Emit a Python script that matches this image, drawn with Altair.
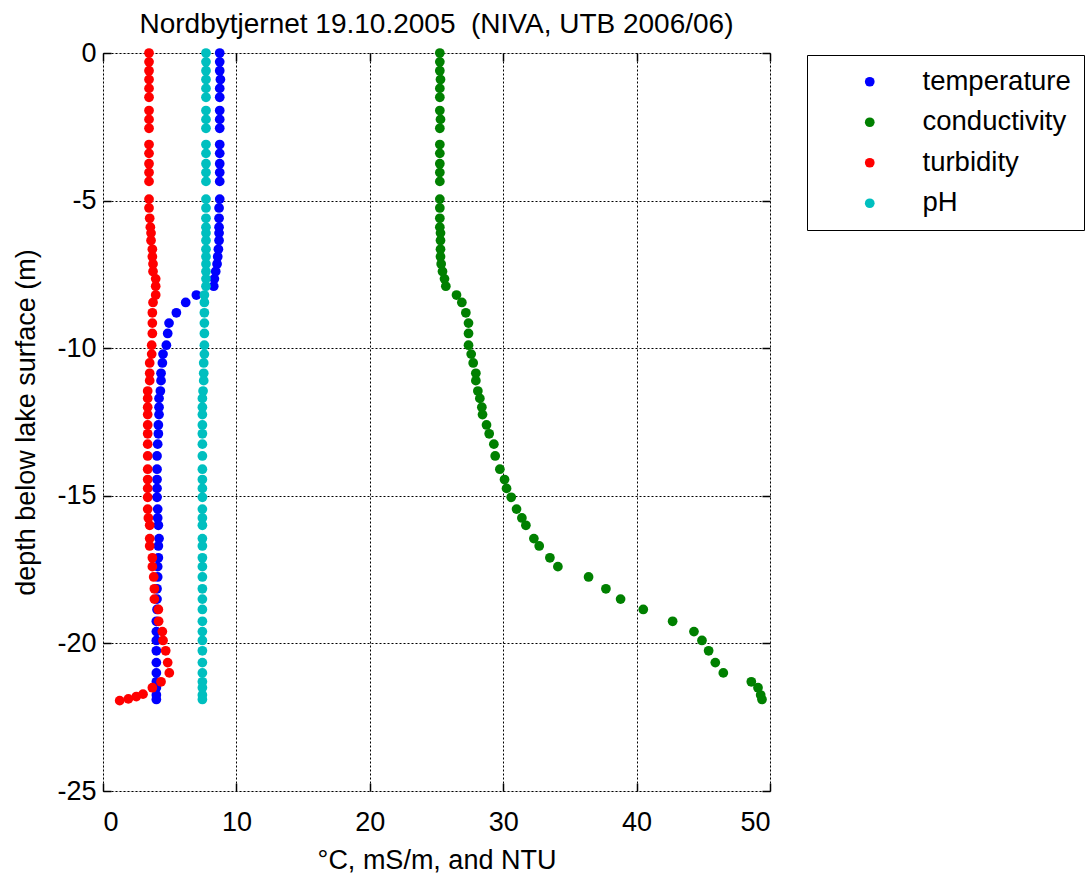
import altair as alt
import pandas as pd

# ---- data ----
depth = [0.0, 0.3, 0.6, 0.9, 1.2, 1.5, 1.95, 2.25, 2.55, 3.1,
         3.4, 3.75, 4.05, 4.35, 4.95, 5.25, 5.6, 5.9, 6.1, 6.35,
         6.65, 6.9, 7.15, 7.4, 7.65, 7.9, 8.2, 8.45, 8.8, 9.15,
         9.5, 9.9, 10.2, 10.5, 10.85, 11.1, 11.45, 11.7, 12.0, 12.25,
         12.6, 12.9, 13.25, 13.65, 14.1, 14.45, 14.75, 15.05, 15.45, 15.75,
         16.0, 16.45, 16.7, 17.1, 17.4, 17.75, 18.15, 18.5, 18.85, 19.25,
         19.6, 19.9, 20.25, 20.65, 21.0, 21.3, 21.5, 21.75, 21.9]

temperature = [8.75, 8.75, 8.75, 8.8, 8.75, 8.75, 8.75, 8.75, 8.75, 8.75,
               8.75, 8.75, 8.75, 8.75, 8.75, 8.7, 8.7, 8.7, 8.7, 8.7,
               8.65, 8.6, 8.55, 8.45, 8.35, 8.3, 7.0, 6.2, 5.5, 4.95,
               4.85, 4.75, 4.5, 4.45, 4.35, 4.35, 4.3, 4.2, 4.2, 4.2,
               4.15, 4.15, 4.1, 4.05, 4.05, 4.05, 4.05, 4.05, 4.1, 4.1,
               4.15, 4.2, 4.15, 4.15, 4.1, 4.1, 4.05, 4.05, 4.05, 4.0,
               4.0, 4.0, 4.0, 4.0, 4.0, 4.0, 4.0, 4.0, 4.0]

conductivity = [25.25, 25.25, 25.25, 25.3, 25.25, 25.25, 25.25, 25.3, 25.25, 25.25,
                25.25, 25.25, 25.25, 25.25, 25.25, 25.25, 25.25, 25.25, 25.3, 25.3,
                25.3, 25.3, 25.35, 25.45, 25.6, 25.7, 26.5, 26.9, 27.2, 27.4,
                27.4, 27.4, 27.6, 27.75, 27.95, 27.95, 28.1, 28.25, 28.4, 28.45,
                28.75, 28.95, 29.3, 29.4, 29.75, 30.1, 30.25, 30.6, 31.0, 31.4,
                31.7, 32.3, 32.7, 33.5, 34.1, 36.4, 37.7, 38.8, 40.5, 42.7,
                44.3, 44.9, 45.4, 45.9, 46.5, 48.6, 49.1, 49.3, 49.4]

ph = [7.72, 7.72, 7.72, 7.72, 7.72, 7.72, 7.72, 7.72, 7.72, 7.72,
      7.72, 7.72, 7.72, 7.72, 7.72, 7.72, 7.72, 7.72, 7.72, 7.72,
      7.72, 7.72, 7.72, 7.72, 7.72, 7.72, 7.6, 7.6, 7.6, 7.6,
      7.6, 7.6, 7.6, 7.55, 7.55, 7.55, 7.5, 7.45, 7.45, 7.45,
      7.45, 7.45, 7.45, 7.45, 7.45, 7.45, 7.45, 7.45, 7.45, 7.45,
      7.45, 7.45, 7.45, 7.45, 7.45, 7.45, 7.45, 7.45, 7.45, 7.45,
      7.45, 7.45, 7.45, 7.45, 7.45, 7.45, 7.45, 7.45, 7.45]

turbidity_depth = [0.0, 0.3, 0.6, 0.9, 1.2, 1.5, 1.95, 2.25, 2.55, 3.1,
                   3.4, 3.75, 4.05, 4.35, 4.95, 5.25, 5.6, 5.9, 6.1, 6.35,
                   6.65, 6.9, 7.15, 7.4, 7.65, 7.9, 8.2, 8.45, 8.8, 9.15,
                   9.5, 9.9, 10.2, 10.5, 10.85, 11.1, 11.45, 11.7, 12.0, 12.25,
                   12.6, 12.9, 13.25, 13.65, 14.1, 14.45, 14.75, 15.05, 15.45, 15.75,
                   16.0, 16.45, 16.7, 17.1, 17.4, 17.75, 18.15, 18.5, 18.85, 19.25,
                   19.6, 19.9, 20.25, 20.65, 21.0, 21.3, 21.5, 21.72, 21.8, 21.88,
                   21.94]

turbidity = [3.45, 3.45, 3.45, 3.45, 3.45, 3.45, 3.45, 3.45, 3.45, 3.45,
             3.45, 3.45, 3.45, 3.45, 3.45, 3.45, 3.5, 3.55, 3.6, 3.6,
             3.7, 3.7, 3.75, 3.75, 3.95, 3.95, 3.95, 3.75, 3.7, 3.7,
             3.7, 3.65, 3.65, 3.5, 3.5, 3.5, 3.35, 3.35, 3.35, 3.35,
             3.35, 3.35, 3.35, 3.35, 3.35, 3.35, 3.35, 3.35, 3.35, 3.4,
             3.5, 3.5, 3.5, 3.7, 3.7, 3.8, 3.85, 3.85, 4.15, 4.17,
             4.45, 4.5, 4.7, 4.85, 4.97, 4.35, 3.7, 3.0, 2.5, 1.9,
             1.25]

series_names = ["temperature", "conductivity", "turbidity", "pH"]
series_colors = ["#0000FF", "#008000", "#FF0000", "#00BFBF"]
x_ticks = [0, 10, 20, 30, 40, 50]
y_ticks = [0, -5, -10, -15, -20, -25]

# ---- long table built from the arrays ----
rows = []
for name, vals, deps in [("temperature", temperature, depth),
                         ("conductivity", conductivity, depth),
                         ("turbidity", turbidity, turbidity_depth),
                         ("pH", ph, depth)]:
    for v, d in zip(vals, deps):
        rows.append({"series": name, "value": v, "z": -d})
df = pd.DataFrame(rows)

FONT = "Liberation Sans"
FS = 27
xs = alt.Scale(domain=[0, 50], nice=False, zero=False)
ys = alt.Scale(domain=[-25, 0], nice=False, zero=False)

common = dict(labelFont=FONT, titleFont=FONT, labelColor="black", titleColor="black",
              labelFontSize=FS, titleFontSize=FS, titleFontWeight="normal", domain=False)

points = alt.Chart(df).mark_circle(size=95, opacity=1).encode(
    x=alt.X("value:Q", scale=xs,
            axis=alt.Axis(orient="bottom", values=x_ticks, title="°C, mS/m, and NTU",
                          ticks=False, labelPadding=18, titlePadding=12,
                          grid=True, gridColor="black", gridDash=[2, 2], gridWidth=1,
                          gridOpacity=1, **common)),
    y=alt.Y("z:Q", scale=ys,
            axis=alt.Axis(orient="left", values=y_ticks, title="depth below lake surface (m)",
                          ticks=False, labelPadding=7, titlePadding=16,
                          labelExpr="datum.value == 0 ? '0' : '-' + abs(datum.value)",
                          grid=True, gridColor="black", gridDash=[2, 2], gridWidth=1,
                          gridOpacity=1, **common)),
    color=alt.Color("series:N", scale=alt.Scale(domain=series_names, range=series_colors),
                    legend=alt.Legend(title=None, orient="none", legendX=704, legendY=2,
                                      direction="vertical", symbolType="circle",
                                      symbolSize=95, symbolOpacity=1, symbolStrokeWidth=0,
                                      labelFont=FONT, labelFontSize=27.5, labelColor="black",
                                      labelOffset=39, symbolOffset=36, rowPadding=11.5,
                                      padding=13, strokeColor="black", fillColor="white",
                                      labelLimit=400)),
)

tick_style = dict(labels=False, title=None, grid=False, domain=False,
                  tickSize=8, tickWidth=1.5, tickColor="black", offset=-8)

ticks_bl = alt.Chart(df).mark_circle(opacity=0).encode(
    x=alt.X("value:Q", scale=xs, axis=alt.Axis(orient="bottom", values=x_ticks, **tick_style)),
    y=alt.Y("z:Q", scale=ys, axis=alt.Axis(orient="left", values=y_ticks, **tick_style)),
)
ticks_tr = alt.Chart(df).mark_circle(opacity=0).encode(
    x=alt.X("value:Q", scale=xs, axis=alt.Axis(orient="top", values=x_ticks, **tick_style)),
    y=alt.Y("z:Q", scale=ys, axis=alt.Axis(orient="right", values=y_ticks, **tick_style)),
)

chart = alt.layer(points, ticks_bl, ticks_tr).resolve_axis(
    x="independent", y="independent"
).properties(
    width=667, height=738,
    autosize=alt.AutoSizeParams(type="none"),
    padding={"left": 103, "top": 53, "right": 320, "bottom": 91},
    title=alt.TitleParams("Nordbytjernet 19.10.2005 \u00a0(NIVA, UTB 2006/06)",
                          font=FONT, fontSize=28, fontWeight="normal", color="black",
                          anchor="middle", baseline="alphabetic", offset=4, dy=26),
).configure_view(
    stroke="black", strokeWidth=2
).configure(background="white")

chart.save("out.html", embed_options={"renderer": "svg", "actions": False})
